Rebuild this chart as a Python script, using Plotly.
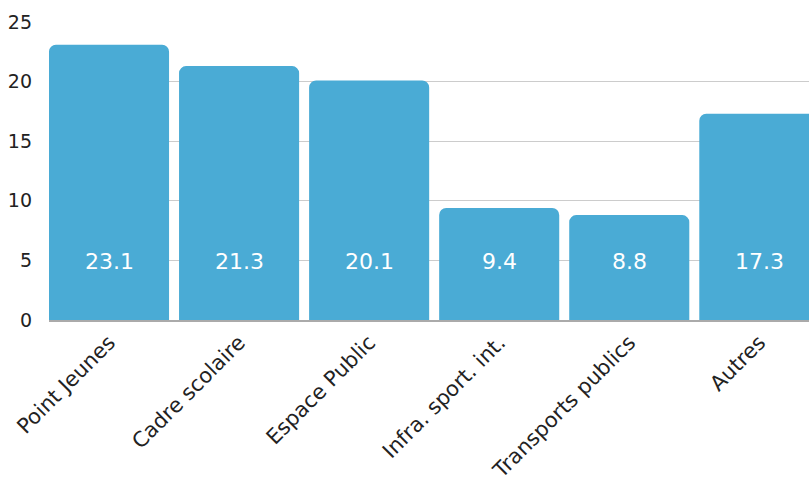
import plotly.graph_objects as go

categories = ["Point Jeunes", "Cadre scolaire", "Espace Public", "Infra. sport. int.", "Transports publics", "Autres"]
values = [23.1, 21.3, 20.1, 9.4, 8.8, 17.3]
y_ticks = [0, 5, 10, 15, 20, 25]

FONT = "DejaVu Sans"
BAR = "#4AABD5"

fig = go.Figure()
fig.add_trace(go.Bar(
    x=categories, y=values,
    marker=dict(color=BAR, line=dict(width=0), cornerradius=7),
    hoverinfo="skip",
))

for c, v in zip(categories, values):
    fig.add_annotation(x=c, y=4.9, text=f"{v}", showarrow=False,
                       font=dict(family=FONT, size=22, color="white"),
                       xanchor="center", yanchor="middle")

fig.update_layout(
    width=809, height=482,
    margin=dict(l=49, r=0, t=22, b=162),
    paper_bgcolor="white", plot_bgcolor="white",
    bargap=10/130,
    showlegend=False,
    font=dict(family=FONT, color="#222222"),
)
fig.update_xaxes(
    range=[-0.4615, 5.382],
    tickangle=-45,
    tickfont=dict(family=FONT, size=21, color="#222222"),
    showgrid=False, zeroline=False,
    showline=True, linecolor="#aaaaaa", linewidth=2,
    ticks="",
)
fig.update_yaxes(
    range=[0, 25],
    tickvals=y_ticks,
    tickfont=dict(family=FONT, size=19, color="#222222"),
    showgrid=True, gridcolor="#cccccc", gridwidth=1,
    zeroline=False, showline=False, ticks="",
    ticklabelstandoff=16,
)

fig.write_html("out.html", config={"displayModeBar": False},
               post_script="document.body.style.margin='0';document.body.style.overflow='hidden';")
